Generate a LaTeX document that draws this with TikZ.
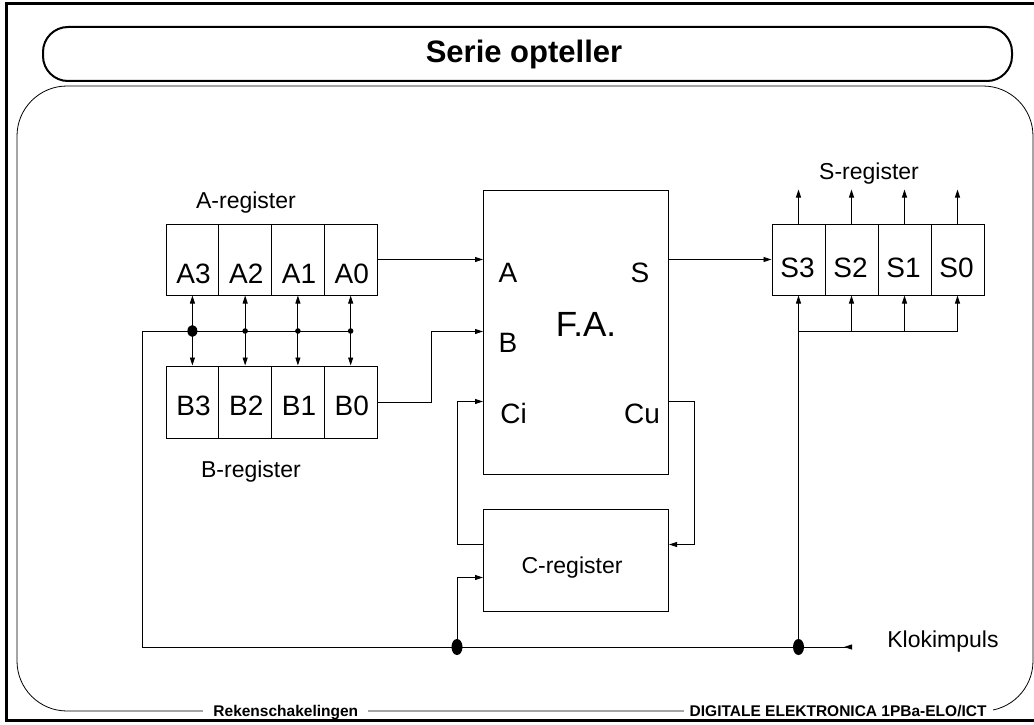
\documentclass[tikz,border=0pt]{standalone}
\usepackage{fontspec}
\setmainfont{Liberation Sans}
\usetikzlibrary{arrows.meta,calc}
\begin{document}
\begin{tikzpicture}[x=1pt,y=-1pt,line width=0.9pt,
  arr/.style={-{Triangle[length=8pt,width=5pt]}},
  dbl/.style={{Triangle[length=8pt,width=5pt]}-{Triangle[length=8pt,width=5pt]}},
  cell/.style={draw,line width=1pt,minimum width=52.75pt,minimum height=71pt,inner sep=0pt},
  celltxt/.style={anchor=base,font=\fontsize{28}{30}\selectfont,inner sep=0pt},
  lbl/.style={anchor=base,font=\fontsize{23}{26}\selectfont,inner sep=0pt},
  blk/.style={draw,line width=1pt,inner sep=0pt,anchor=north west},
  foot/.style={anchor=base,fill=white,inner ysep=1pt,inner xsep=0pt,font=\bfseries\fontsize{15.5}{17}\selectfont}
]
\useasboundingbox (0,0) rectangle (1034,725);
\fill[white] (0,0) rectangle (1034,725);

% content box and title box
\draw[line width=0.8pt,rounded corners=50pt] (17,86) rectangle (1033,711);
\node[draw,line width=2pt,rounded corners=25pt,minimum width=969pt,minimum height=54pt,inner sep=0pt] (titlebox) at (527.5,54) {};
\node[anchor=base,inner sep=0pt,font=\bfseries\fontsize{31}{34}\selectfont] (title) at (524,63) {Serie opteller};

% footer
\node[foot,anchor=base west,inner xsep=10pt] (foot1) at (203,716) {Rekenschakelingen};
\node[foot,anchor=base east,inner xsep=6pt] (foot2) at (993,716) {DIGITALE ELEKTRONICA 1PBa-ELO/ICT};

% outer frame
\draw[line width=3pt] (1036,4) -- (6,4) -- (6,720) -- (1036,720);

% registers
\foreach \i/\n in {0/3,1/2,2/1,3/0} {
  \node[cell] (a\n) at ({192.4+52.75*\i},259.5) {};
  \node[celltxt] (ta\n) at ({193.5+52.75*\i},283) {A\n};
  \node[cell,minimum height=72pt] (b\n) at ({192.4+52.75*\i},402) {};
  \node[celltxt] (tb\n) at ({193.5+52.75*\i},415) {B\n};
  \node[cell,minimum width=53pt] (s\n) at ({798.5+53*\i},259.5) {};
  \node[celltxt] (ts\n) at ({797.5+53*\i},277) {S\n};
}
\node[lbl] (alab) at (246,208) {A-register};
\node[lbl] (blab) at (251,477) {B-register};
\node[lbl] (slab) at (869,179) {S-register};

% full adder and C-register
\node[blk,minimum width=185pt,minimum height=284pt] (fa) at (483,190) {};
\node[anchor=base,inner sep=0pt,font=\fontsize{35}{38}\selectfont] (falab) at (586,336) {F.A.};
\node[celltxt] (pa) at (508,282) {A};
\node[celltxt] (ps) at (640,282) {S};
\node[celltxt] (pb) at (508,352) {B};
\node[celltxt] (pci) at (513.5,423) {Ci};
\node[celltxt] (pcu) at (642,423) {Cu};
\node[blk,minimum width=185pt,minimum height=102pt] (creg) at (483,509) {};
\node[lbl] (clab) at (572,573) {C-register};
\node[lbl] (klab) at (943,647) {Klokimpuls};

% bus and clock
\coordinate (busL) at (142,331);
\coordinate (clkL) at (142,647);
\coordinate (clkR) at (852,647);
\coordinate (jC) at (457,647);
\coordinate (jS) at (s3.south |- clkL);
\draw[-{Triangle[length=8pt,width=5pt,reversed]}] (a0.south |- busL) -- (busL) -- (clkL) -- (clkR);
\foreach \n in {3,2,1,0} {
  \draw[dbl] (a\n.south) -- (b\n.north);
}
\fill (a3.south |- busL) ellipse (5pt and 6pt);
\foreach \n in {2,1,0} { \fill (a\n.south |- busL) circle (2.8pt); }
\fill (jC) ellipse (5.5pt and 8pt);
\fill (jS) ellipse (5.5pt and 8pt);

% data paths
\draw[arr] (a0.east) -- (a0.east -| fa.west);
\draw[arr] (b0.east) -- ++(54,0) |- ($(fa.west)+(0,-1)$);
\draw[arr] (fa.east |- s3.west) -- (s3.west);
\draw[arr] ($(fa.east)+(0,69)$) -- ++(25,0) |- ($(creg.east)+(0,-16)$);
\draw[arr] ($(creg.west)+(0,-16)$) -- ++(-26,0) |- ($(fa.west)+(0,69)$);
\draw[arr] (jC) |- ($(creg.west)+(0,17)$);

% S-register clock and outputs
\draw[arr] (jS) -- (s3.south);
\draw (s3.south |- busL) -- (s0.south |- busL);
\foreach \n in {2,1,0} { \draw[arr] (s\n.south |- busL) -- (s\n.south); }
\foreach \n in {3,2,1,0} { \draw[arr] (s\n.north) -- ++(0,-34); }
\end{tikzpicture}
\end{document}
